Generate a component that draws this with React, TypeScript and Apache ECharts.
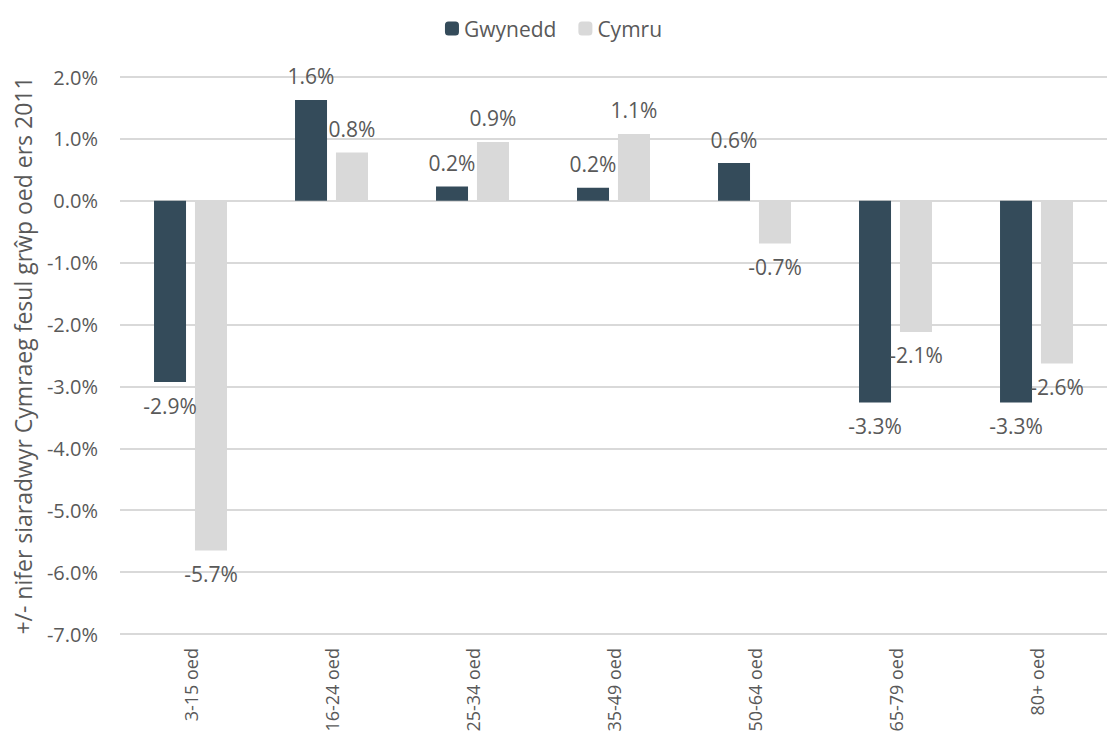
import React, { useEffect, useRef } from "react";
import * as echarts from "echarts";

const categories = ["3-15 oed", "16-24 oed", "25-34 oed", "35-49 oed", "50-64 oed", "65-79 oed", "80+ oed"];
const gwynedd = [-2.93, 1.63, 0.23, 0.21, 0.61, -3.26, -3.26];
const cymru = [-5.65, 0.78, 0.95, 1.08, -0.69, -2.12, -2.63];
const yTicks = { min: -7, max: 2, interval: 1 };

const FONT = "'Open Sans', 'Noto Sans', sans-serif";
const TEXT = "#595959";

function toItems(vals: number[]) {
  return vals.map((v) => ({
    value: v,
    label: { position: v < 0 ? "bottom" : "top" },
  }));
}

export default function App() {
  const ref = useRef<HTMLDivElement>(null);
  useEffect(() => {
    const chart = echarts.init(ref.current!, undefined, { renderer: "svg" });
    const labelCommon = {
      show: true,
      distance: 13,
      color: TEXT,
      fontSize: 21,
      fontFamily: FONT,
      formatter: (p: any) => p.value.toFixed(1) + "%",
    };
    chart.setOption({
      animation: false,
      textStyle: { fontFamily: FONT },
      legend: {
        top: 13,
        left: "center",
        itemWidth: 14,
        itemHeight: 14,
        itemGap: 22,
        textStyle: { color: TEXT, fontSize: 21, fontFamily: FONT },
        data: ["Gwynedd", "Cymru"],
      },
      grid: { left: 120, width: 995, top: 77, bottom: 115, containLabel: false },
      xAxis: {
        type: "category",
        data: categories,
        axisLine: { show: false },
        axisTick: { show: false },
        axisLabel: { rotate: 90, color: TEXT, fontSize: 18, fontFamily: FONT, margin: 14 },
      },
      yAxis: {
        type: "value",
        min: yTicks.min,
        max: yTicks.max,
        interval: yTicks.interval,
        name: "+/- nifer siaradwyr Cymraeg fesul grŵp oed ers 2011",
        nameLocation: "middle",
        nameGap: 86,
        nameTextStyle: { color: TEXT, fontSize: 23, fontFamily: FONT },
        axisLine: { show: false },
        axisTick: { show: false },
        axisLabel: {
          color: TEXT,
          fontSize: 20,
          fontFamily: FONT,
          margin: 22,
          formatter: (v: number) => v.toFixed(1) + "%",
        },
        splitLine: { lineStyle: { color: "#d9d9d9", width: 2 } },
      },
      series: [
        {
          name: "Gwynedd",
          type: "bar",
          data: toItems(gwynedd),
          barWidth: 32,
          barGap: "28%",
          itemStyle: { color: "#344b5a" },
          label: labelCommon,
        },
        {
          name: "Cymru",
          type: "bar",
          data: toItems(cymru),
          barWidth: 32,
          itemStyle: { color: "#d9d9d9" },
          label: labelCommon,
        },
      ],
    });
    return () => chart.dispose();
  }, []);
  return <div ref={ref} style={{ width: 1107, height: 749, position: "absolute", left: 0, top: 0 }} />;
}
